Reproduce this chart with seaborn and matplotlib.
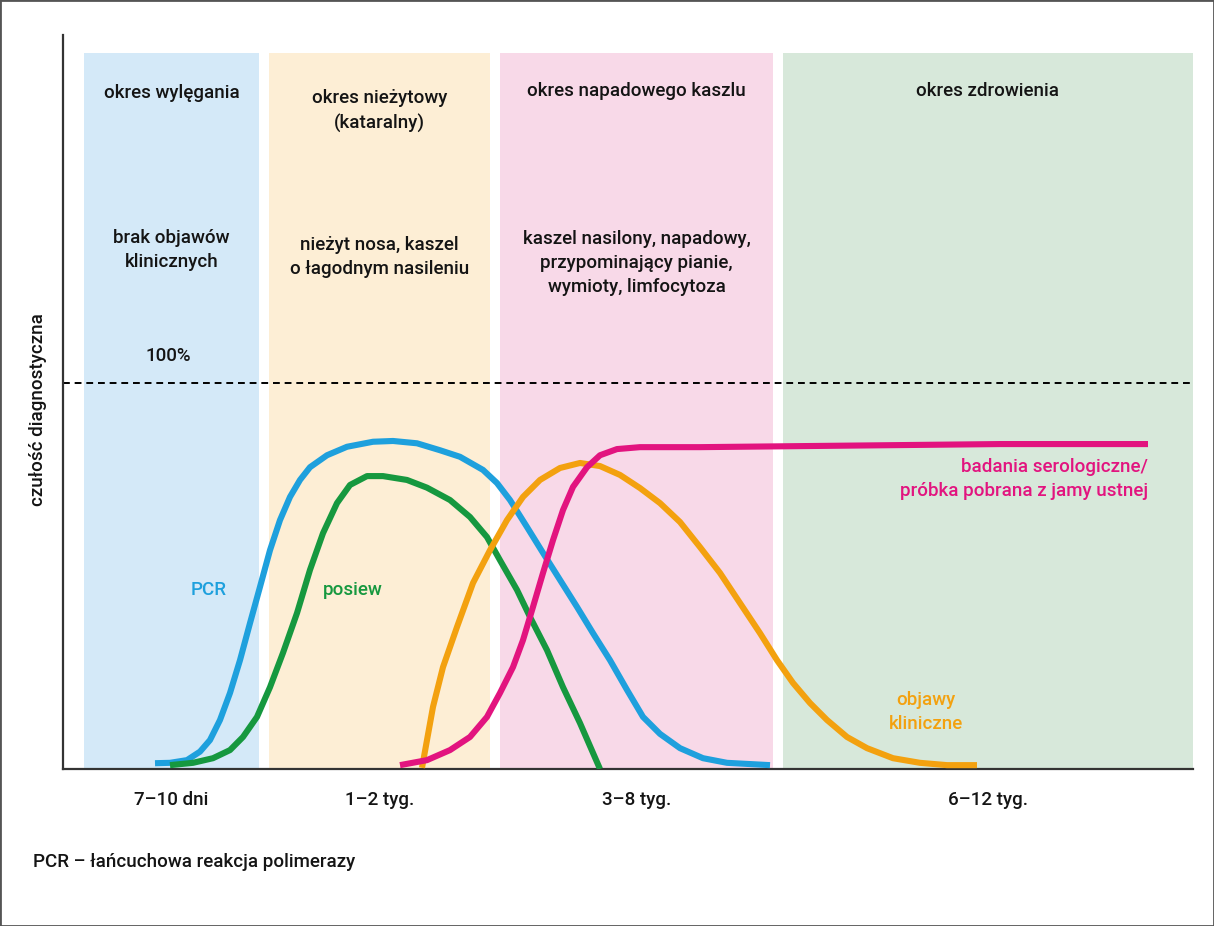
import numpy as np
import pandas as pd
import matplotlib
matplotlib.use("Agg")
import matplotlib.pyplot as plt
import seaborn as sns
from matplotlib.patches import Rectangle

# ---------------------------------------------------------------------------
# Data (x: time axis units, y: diagnostic sensitivity in %)
# ---------------------------------------------------------------------------
phase_names = ["okres wylęgania", "okres nieżytowy\n(kataralny)",
               "okres napadowego kaszlu", "okres zdrowienia"]
phase_desc = ["brak objawów\nklinicznych", "nieżyt nosa, kaszel\no łagodnym nasileniu",
              "kaszel nasilony, napadowy,\nprzypominający pianie,\nwymioty, limfocytoza", ""]
phase_start = [2.1, 20.6, 43.7, 72.0]
phase_end = [19.6, 42.7, 71.0, 113.0]
phase_ticks = ["7–10 dni", "1–2 tyg.", "3–8 tyg.", "6–12 tyg."]
phase_colors = ["#d4e9f8", "#fdeed5", "#f8d9e8", "#d7e8da"]

pcr_x = [9.2, 10.7, 12.4, 13.7, 14.7, 15.7, 16.7, 17.7, 18.7, 19.7, 20.7, 21.7,
         22.7, 23.7, 24.7, 26.4, 28.4, 31.0, 33.0, 35.4, 37.7, 39.7, 42.0, 43.4,
         44.7, 46.4, 48.0, 49.7, 51.4, 53.0, 54.7, 56.4, 58.0, 59.7, 61.7, 64.0,
         66.4, 70.7]
pcr_y = [1.5, 1.6, 2.3, 4.5, 7.5, 12.7, 19.7, 28.2, 37.8, 47.2, 56.7, 64.5,
         70.5, 74.9, 78.2, 81.3, 83.5, 84.8, 85.0, 84.4, 82.6, 80.9, 77.5, 74.1,
         69.7, 62.7, 56.0, 49.0, 42.0, 35.2, 28.2, 20.5, 13.5, 9.1, 5.4, 2.8,
         1.6, 1.0]

culture_x = [10.7, 13.0, 15.0, 16.7, 18.0, 19.4, 20.7, 22.0, 23.4, 24.7, 26.0,
             27.4, 28.7, 30.4, 32.0, 34.4, 36.4, 38.7, 40.7, 42.4, 43.7, 45.4,
             46.7, 48.4, 50.0, 51.7, 53.7]
culture_y = [1.0, 1.6, 2.8, 4.9, 8.3, 13.5, 21.2, 30.1, 40.4, 51.6, 61.1,
             68.9, 73.6, 75.9, 75.9, 74.9, 72.9, 69.7, 65.3, 60.1, 54.1, 46.4,
             39.4, 30.8, 21.2, 11.9, 0.0]

symptoms_x = [35.9, 36.4, 37.0, 38.0, 39.4, 41.0, 42.7, 44.4, 46.0, 47.7, 49.7,
              51.7, 53.7, 55.7, 57.7, 59.7, 61.7, 63.7, 65.7, 67.7, 69.7, 71.4,
              73.0, 74.7, 76.4, 78.4, 80.4, 83.0, 85.7, 88.4, 91.4]
symptoms_y = [0.3, 7.5, 16.1, 26.4, 36.8, 48.2, 56.7, 64.5, 70.5, 74.9, 78.0,
              79.3, 78.5, 76.2, 72.8, 68.9, 64.0, 57.5, 50.8, 43.0, 35.2, 28.2,
              22.3, 17.1, 12.7, 8.3, 5.4, 2.8, 1.6, 1.0, 1.0]

serology_x = [33.7, 36.4, 38.7, 40.7, 42.4, 43.7, 45.0, 46.0, 47.0, 48.0, 49.0,
              50.0, 51.0, 52.4, 53.7, 55.4, 57.7, 63.7, 93.7, 108.5]
serology_y = [1.0, 2.3, 4.9, 8.3, 13.5, 19.7, 26.4, 33.4, 42.0, 50.8, 59.3,
              67.1, 73.1, 78.2, 81.3, 82.9, 83.4, 83.4, 84.2, 84.2]

# ---------------------------------------------------------------------------
# Plot
# ---------------------------------------------------------------------------
sns.set_theme(style="white")
plt.rcParams["font.family"] = ["Roboto", "DejaVu Sans"]
plt.rcParams["font.weight"] = 500

FS = 13.5
TXT = "#141414"

fig = plt.figure(figsize=(12.14, 9.26), dpi=100)
ax = fig.add_axes([63 / 1214, 1 - 769 / 926, 1130 / 1214, 734 / 926])
ax.set_xlim(0, 113)
ax.set_ylim(0, 190.2)

band_top = 185.5
name_y = [175.1, 170.5, 175.6, 175.6]
desc_y = [134.5, 132.6, 131.1, 0]
for i, (start, end, color) in enumerate(zip(phase_start, phase_end, phase_colors)):
    ax.add_patch(Rectangle((start, 0), end - start, band_top, facecolor=color,
                           edgecolor="none", zorder=0))
    mid = (start + end) / 2
    ax.text(mid, name_y[i], phase_names[i], ha="center", va="center",
            fontsize=FS, color=TXT, linespacing=1.45)
    if phase_desc[i]:
        ax.text(mid, desc_y[i], phase_desc[i], ha="center", va="center",
                fontsize=FS, color=TXT, linespacing=1.45)

ax.axhline(100, color="black", lw=1.4, ls=(0, (3.5, 2.5)), zorder=1)
ax.text(10.5, 107, "100%", ha="center", va="center", fontsize=FS, color=TXT)

curves = [
    (pcr_x, pcr_y, "#1ea0dd"),
    (culture_x, culture_y, "#16983f"),
    (symptoms_x, symptoms_y, "#f3a10f"),
    (serology_x, serology_y, "#e2147f"),
]
for xs, ys, color in curves:
    sns.lineplot(x=xs, y=ys, ax=ax, color=color, lw=4.4, sort=False,
                 estimator=None, zorder=3, solid_joinstyle="round",
                 solid_capstyle="butt")

ax.text(14.6, 46.4, "PCR", color="#1ea0dd", fontsize=FS, ha="center", va="center")
ax.text(29.0, 46.4, "posiew", color="#16983f", fontsize=FS, ha="center", va="center")
ax.text(86.3, 14.8, "objawy\nkliniczne", color="#f3a10f", fontsize=FS, ha="center",
        va="center", linespacing=1.45)
ax.text(108.5, 75.1, "badania serologiczne/\npróbka pobrana z jamy ustnej",
        color="#e2147f", fontsize=FS, ha="right", va="center", linespacing=1.45,
        multialignment="right")

centers = [(s + e) / 2 for s, e in zip(phase_start, phase_end)]
ax.set_xticks(centers)
ax.set_xticklabels(phase_ticks, fontsize=FS, color=TXT)
ax.set_yticks([])
ax.tick_params(axis="x", length=0, pad=16)

for side in ["top", "right"]:
    ax.spines[side].set_visible(False)
for side in ["left", "bottom"]:
    ax.spines[side].set_color("#333333")
    ax.spines[side].set_linewidth(1.6)

fig.text(38 / 1214, 1 - 410 / 926, "czułość diagnostyczna", rotation=90,
         ha="center", va="center", fontsize=FS, color=TXT)
fig.text(33 / 1214, 1 - 862 / 926, "PCR – łańcuchowa reakcja polimerazy",
         ha="left", va="center", fontsize=FS, color=TXT)

fig.patches.append(Rectangle((0, 0), 1, 1, transform=fig.transFigure, fill=False,
                             edgecolor="#555555", lw=2))

fig.savefig("out.png", dpi=100)
